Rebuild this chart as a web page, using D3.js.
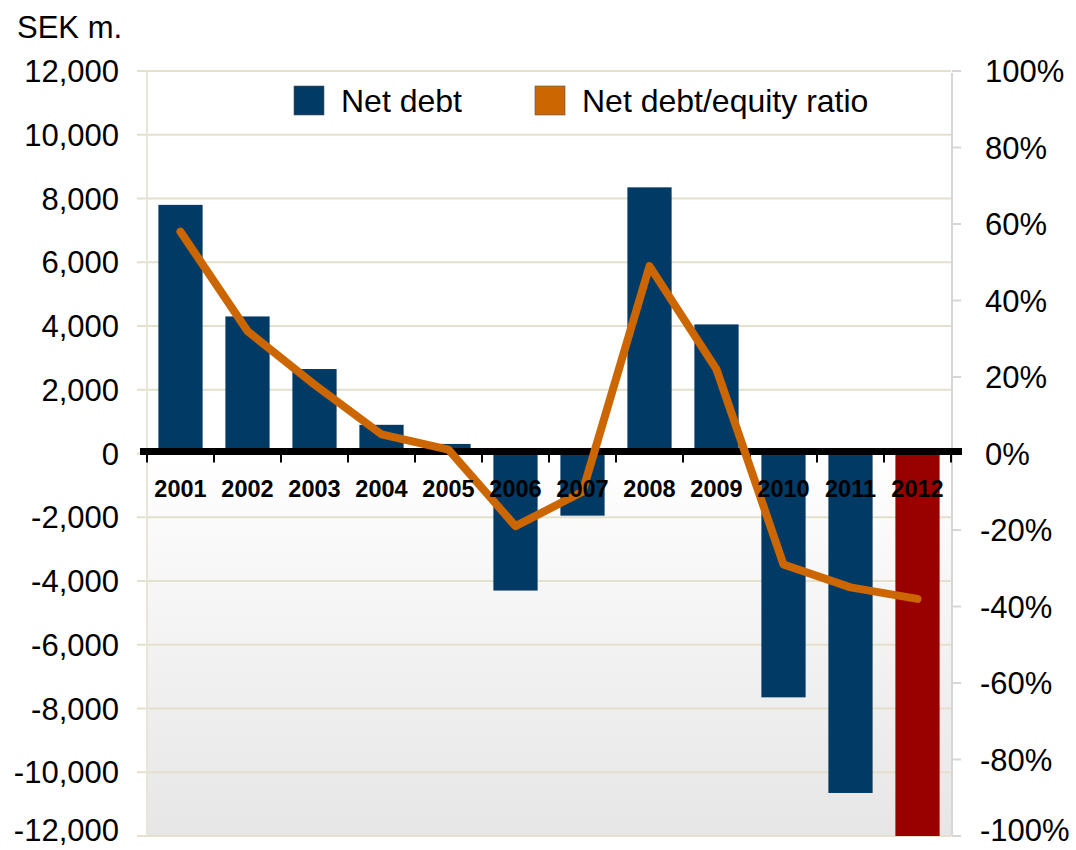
<!DOCTYPE html>
<html>
<head>
<meta charset="utf-8">
<script src="https://cdn.jsdelivr.net/npm/d3@7"></script>
<style>
  html, body { margin: 0; padding: 0; background: #fff; }
  svg { display: block; font-family: "Liberation Sans", Arial, sans-serif; }
</style>
</head>
<body>
<svg id="chart" width="1076" height="850"></svg>
<script>
const years = ["2001","2002","2003","2004","2005","2006","2007","2008","2009","2010","2011","2012"];
const netDebt = [7800, 4300, 2650, 900, 300, -4300, -1950, 8350, 4050, -7650, -10650, -12000];
const ratio = [58, 32, 18, 5, 1, -19, -10, 49, 22, -29, -35, -38];
const leftTicks = [12000, 10000, 8000, 6000, 4000, 2000, 0, -2000, -4000, -6000, -8000, -10000, -12000];
const rightTicks = [100, 80, 60, 40, 20, 0, -20, -40, -60, -80, -100];
const seriesNames = ["Net debt", "Net debt/equity ratio"];

const svg = d3.select("#chart");
const L = 147, R = 951, T = 71, B = 836;

const x = d3.scaleBand().domain(years).range([L, R]).paddingInner(0.34).paddingOuter(0.17);
const xb = d3.scaleBand().domain(years).range([L, R]);
const y = d3.scaleLinear().domain([-12000, 12000]).range([B, T]);
const y2 = d3.scaleLinear().domain([-100, 100]).range([B, T]);

// background gradient
const defs = svg.append("defs");
const grad = defs.append("linearGradient").attr("id", "bg").attr("x1", 0).attr("y1", 0).attr("x2", 0).attr("y2", 1);
grad.append("stop").attr("offset", "0%").attr("stop-color", "#ffffff");
grad.append("stop").attr("offset", "50%").attr("stop-color", "#ffffff");
grad.append("stop").attr("offset", "100%").attr("stop-color", "#e6e6e6");
svg.append("rect").attr("x", L).attr("y", T).attr("width", R - L).attr("height", B - T).attr("fill", "url(#bg)");

// gridlines
svg.append("g").selectAll("line").data(leftTicks).join("line")
  .attr("x1", L - 10).attr("x2", R).attr("y1", d => y(d)).attr("y2", d => y(d))
  .attr("stroke", "#e3e0cc").attr("stroke-width", 2);
// left border
svg.append("line").attr("x1", L).attr("x2", L).attr("y1", T).attr("y2", B)
  .attr("stroke", "#e8e6d6").attr("stroke-width", 2);
// right axis line + ticks
svg.append("line").attr("x1", R + 1).attr("x2", R + 1).attr("y1", T + 2).attr("y2", B)
  .attr("stroke", "#d6d6d6").attr("stroke-width", 2);
svg.append("g").selectAll("line").data(rightTicks).join("line")
  .attr("x1", R + 1).attr("x2", R + 10).attr("y1", d => y2(d)).attr("y2", d => y2(d))
  .attr("stroke", "#d6d6d6").attr("stroke-width", 2);

// bars
svg.append("g").selectAll("rect").data(years).join("rect")
  .attr("x", d => x(d))
  .attr("width", x.bandwidth())
  .attr("y", (d, i) => y(Math.max(0, netDebt[i])))
  .attr("height", (d, i) => Math.abs(y(netDebt[i]) - y(0)))
  .attr("fill", (d, i) => i === years.length - 1 ? "#990000" : "#023a66");

// zero line
svg.append("line").attr("x1", 140).attr("x2", 962).attr("y1", y(0) - 2).attr("y2", y(0) - 2)
  .attr("stroke", "#000").attr("stroke-width", 7);
// category ticks on zero line
const bounds = years.map(d => xb(d)).concat([R]);
svg.append("g").selectAll("line").data(bounds).join("line")
  .attr("x1", d => d).attr("x2", d => d).attr("y1", y(0)).attr("y2", y(0) + 9)
  .attr("stroke", "#000").attr("stroke-width", 2);

// line
const lineGen = d3.line().x((d, i) => xb(years[i]) + xb.bandwidth() / 2).y(d => y2(d));
svg.append("path").datum(ratio).attr("d", lineGen)
  .attr("fill", "none").attr("stroke", "#cc6600").attr("stroke-width", 8)
  .attr("stroke-linejoin", "round").attr("stroke-linecap", "round");

// x labels
svg.append("g").selectAll("text").data(years).join("text")
  .attr("x", d => xb(d) + xb.bandwidth() / 2)
  .attr("y", 497)
  .attr("text-anchor", "middle")
  .attr("font-size", 23.5).attr("font-weight", "bold").attr("fill", "#000")
  .text(d => d);

// left axis labels
svg.append("g").selectAll("text").data(leftTicks).join("text")
  .attr("x", 119).attr("y", (d, i) => y(d) + (i === leftTicks.length - 1 ? 5 : 11))
  .attr("text-anchor", "end").attr("font-size", 31).attr("fill", "#000")
  .text(d => d3.format(",")(d).replace("−", "-"));

// right axis labels
svg.append("g").selectAll("text").data(rightTicks).join("text")
  .attr("x", d => d < 0 ? 980 : 985).attr("y", (d, i) => y2(d) + (i === rightTicks.length - 1 ? 5 : 11))
  .attr("text-anchor", "start").attr("font-size", 31).attr("fill", "#000")
  .text(d => d + "%");

// unit title
svg.append("text").attr("x", 17).attr("y", 38).attr("font-size", 31).attr("fill", "#000").text("SEK m.");

// legend
const legX = [294, 535];
const legColors = ["#023a66", "#cc6600"];
const leg = svg.append("g").selectAll("g").data(seriesNames).join("g");
leg.append("rect").attr("x", (d, i) => legX[i]).attr("y", 86).attr("width", 30).attr("height", 29)
  .attr("fill", (d, i) => legColors[i]).attr("stroke", "#555").attr("stroke-width", 0.6);
leg.append("text").attr("x", (d, i) => legX[i] + 47).attr("y", 112)
  .attr("font-size", 32).attr("fill", "#000").text(d => d);
</script>
</body>
</html>
